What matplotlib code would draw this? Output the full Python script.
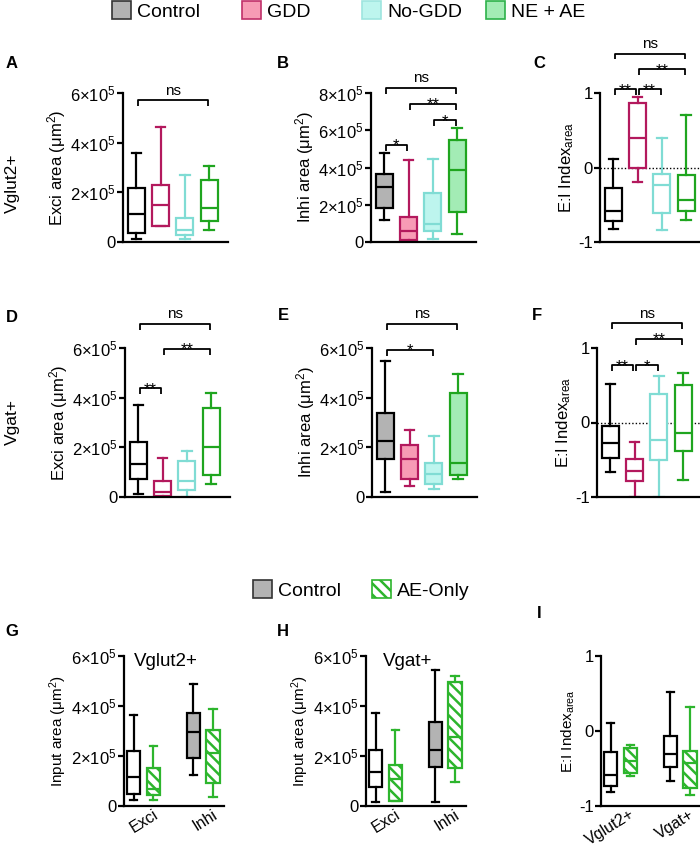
import matplotlib
matplotlib.use("Agg")
import matplotlib.pyplot as plt
from matplotlib.patches import Patch
from matplotlib.ticker import FuncFormatter
from matplotlib.transforms import ScaledTranslation

plt.rcParams["font.family"] = ["Liberation Sans", "DejaVu Sans"]
plt.rcParams["mathtext.fontset"] = "custom"
plt.rcParams["mathtext.rm"] = "Liberation Sans"
plt.rcParams["mathtext.it"] = "Liberation Sans:italic"
plt.rcParams["mathtext.bf"] = "Liberation Sans:bold"
plt.rcParams["hatch.linewidth"] = 1.8

# ---- data: five-number summaries [min, q1, median, q3, max] ----
# area panels in units of 1e5 um^2, E:I index unitless
groups = ["Control", "GDD", "No-GDD", "NE + AE"]

vglut_exci = [[0.12, 0.38, 1.14, 2.16, 3.60],
              [0.65, 0.65, 1.49, 2.30, 4.64],
              [0.12, 0.27, 0.49, 0.95, 2.70],
              [0.49, 0.85, 1.38, 2.51, 3.08]]
vglut_inhi = [[1.16, 1.84, 2.95, 3.67, 4.80],
              [0.02, 0.09, 0.57, 1.34, 4.38],
              [0.18, 0.57, 0.98, 2.63, 4.47],
              [0.45, 1.61, 3.85, 5.50, 6.12]]
vglut_ei = [[-0.82, -0.72, -0.59, -0.28, 0.12],
            [-0.19, -0.01, 0.40, 0.86, 0.94],
            [-0.84, -0.61, -0.23, -0.085, 0.40],
            [-0.71, -0.58, -0.43, -0.10, 0.71]]
vgat_exci = [[0.13, 0.71, 1.32, 2.22, 3.71],
             [0.00, 0.05, 0.20, 0.65, 1.58],
             [0.00, 0.30, 0.63, 1.45, 1.85],
             [0.54, 0.88, 2.02, 3.57, 4.20]]
vgat_inhi = [[0.19, 1.54, 2.25, 3.38, 5.46],
             [0.46, 0.74, 1.55, 2.11, 2.71],
             [0.32, 0.54, 0.94, 1.37, 2.47],
             [0.72, 0.90, 1.37, 4.20, 4.97]]
vgat_ei = [[-0.67, -0.48, -0.28, -0.05, 0.52],
           [-1.00, -0.79, -0.65, -0.49, -0.26],
           [-1.00, -0.51, -0.23, 0.38, 0.62],
           [-0.77, -0.38, -0.14, 0.51, 0.66]]

# AE-only comparison: order = control exci, AE exci, control inhi, AE inhi
ae_groups = ["Control", "AE-Only"]
g_vglut = [[0.24, 0.47, 1.17, 2.21, 3.64],
           [0.24, 0.44, 0.67, 1.51, 2.41],
           [1.24, 1.91, 2.97, 3.73, 4.87],
           [0.37, 0.91, 2.11, 3.04, 3.88]]
h_vgat = [[0.18, 0.77, 1.35, 2.25, 3.73],
          [0.20, 0.22, 1.10, 1.65, 3.03],
          [0.18, 1.55, 2.25, 3.38, 5.46],
          [0.98, 1.53, 2.78, 4.96, 5.19]]
i_ei = [[-0.81, -0.73, -0.58, -0.28, 0.11],
        [-0.60, -0.56, -0.40, -0.23, -0.18],
        [-0.67, -0.48, -0.30, -0.07, 0.52],
        [-0.85, -0.76, -0.42, -0.26, 0.32]]

# significance brackets: (group a, group b, height, label)
sig_a = [(1, 4, 5.7, "ns")]
sig_b = [(1, 4, 8.26, "ns"), (2, 4, 7.42, "**"), (3, 4, 6.53, "*"), (1, 2, 5.22, "*")]
sig_c = [(1, 4, 1.53, "ns"), (2, 4, 1.32, "**"), (1, 2, 1.05, "**"), (2, 3, 1.05, "**")]
sig_d = [(1, 4, 6.97, "ns"), (2, 4, 5.97, "**"), (1, 2, 4.38, "**")]
sig_e = [(1, 4, 6.97, "ns"), (1, 3, 5.93, "*")]
sig_f = [(1, 4, 1.33, "ns"), (2, 4, 1.12, "**"), (1, 2, 0.77, "**"), (2, 3, 0.77, "*")]

edge = ["black", "#B3195D", "#80DCD4", "#1FA51F"]
fill = ["#B3B3B3", "#F79BB5", "#BDF5EE", "#A3ECB5"]
ae_green = "#2DB52D"

W, H = 700, 850
fig = plt.figure(figsize=(7, 8.5), dpi=100)


def axes_px(left, top, width, bottom):
    return fig.add_axes([left / W, 1 - bottom / H, width / W, (bottom - top) / H])


def sci_fmt(v, pos):
    if abs(v) < 1e-9:
        return "0"
    return "%d×10$^5$" % round(v / 1e5)


def style(ax, ylim, yticks, ylabel, area, lsize=12):
    for s in ["top", "right"]:
        ax.spines[s].set_visible(False)
    for s in ["left", "bottom"]:
        ax.spines[s].set_linewidth(1.6)
    ax.set_ylim(*ylim)
    ax.set_yticks(yticks)
    if area:
        ax.yaxis.set_major_formatter(FuncFormatter(sci_fmt))
    else:
        ax.set_yticklabels(["%d" % t for t in yticks])
    ax.tick_params(axis="y", length=4, width=1.6, labelsize=12, pad=1)
    ax.tick_params(axis="x", length=0)
    ax.set_ylabel(ylabel, fontsize=lsize, labelpad=2)


def boxes(ax, data, pos, width, edges, fills, hatches, scale):
    stats = [dict(whislo=d[0] * scale, q1=d[1] * scale, med=d[2] * scale,
                  q3=d[3] * scale, whishi=d[4] * scale, fliers=[]) for d in data]
    bp = ax.bxp(stats, positions=pos, widths=width, patch_artist=True,
                showfliers=False, manage_ticks=False,
                capwidths=[width * 0.55] * len(data))
    for i in range(len(data)):
        b = bp["boxes"][i]
        b.set_facecolor(fills[i])
        b.set_edgecolor(edges[i])
        b.set_linewidth(1.6)
        if hatches[i]:
            b.set_hatch(hatches[i])
        for ln in bp["whiskers"][2 * i:2 * i + 2] + bp["caps"][2 * i:2 * i + 2]:
            ln.set_color(edges[i])
            ln.set_linewidth(1.6)
        bp["medians"][i].set_color(edges[i])
        bp["medians"][i].set_linewidth(1.6)


def brackets(ax, sigs, scale, yr):
    arm = 0.04 * yr
    for a, b, y, lab in sigs:
        y = y * scale
        x1, x2 = a + 0.05, b - 0.05
        ax.plot([x1, x1, x2, x2], [y - arm, y, y, y - arm], color="black",
                lw=1.3, clip_on=False, solid_capstyle="butt")
        if lab == "ns":
            ax.annotate(lab, ((a + b) / 2, y), xytext=(0, 2), textcoords="offset points",
                        ha="center", va="bottom", fontsize=11, annotation_clip=False)
        else:
            ax.annotate(lab, ((a + b) / 2, y), xytext=(0, -4), textcoords="offset points",
                        ha="center", va="baseline", fontsize=12, annotation_clip=False)


area_label_e = "Exci area (μm$^2$)"
area_label_i = "Inhi area (μm$^2$)"
ei_label = "E:I Index$_{\\mathregular{area}}$"
pos4 = [1, 2, 3, 4]

panels = [
    (123, 93, 242, vglut_exci, sig_a, (0, 6e5), [0, 2e5, 4e5, 6e5], area_label_e, True, False),
    (371, 93, 242, vglut_inhi, sig_b, (0, 8e5), [0, 2e5, 4e5, 6e5, 8e5], area_label_i, True, True),
    (600, 93, 242, vglut_ei, sig_c, (-1, 1), [-1, 0, 1], ei_label, False, False),
    (125, 348, 497, vgat_exci, sig_d, (0, 6e5), [0, 2e5, 4e5, 6e5], area_label_e, True, False),
    (372, 348, 497, vgat_inhi, sig_e, (0, 6e5), [0, 2e5, 4e5, 6e5], area_label_i, True, True),
    (597, 348, 497, vgat_ei, sig_f, (-1, 1), [-1, 0, 1], ei_label, False, False),
]

for left, top, bottom, data, sigs, ylim, yt, ylab, area, filled in panels:
    ax = axes_px(left, top, 105, bottom)
    ax.set_xlim(0.45, 4.78)
    scale = 1e5 if area else 1.0
    if not area:
        ax.axhline(0, color="black", lw=1.0, ls=(0, (1, 1.5)), zorder=0.5)
    fills = fill if filled else ["white"] * 4
    boxes(ax, data, pos4, 0.7, edge, fills, [None] * 4, scale)
    style(ax, ylim, yt, ylab, area)
    ax.set_xticks([])
    brackets(ax, sigs, scale, ylim[1] - ylim[0])

# bottom row
pos_pair = [0.835, 1.165, 1.835, 2.165]
pair_edges = ["black", ae_green, "black", ae_green]
hatch_pair = [None, "\\\\\\", None, "\\\\\\"]
bottom_panels = [
    (124, g_vglut, ["white", "white", fill[0], "white"], (0, 6e5), [0, 2e5, 4e5, 6e5],
     "Input area (μm$^2$)", True, ["Exci", "Inhi"], "Vglut2+"),
    (366, h_vgat, ["white", "white", fill[0], "white"], (0, 6e5), [0, 2e5, 4e5, 6e5],
     "Input area (μm$^2$)", True, ["Exci", "Inhi"], "Vgat+"),
    (601, i_ei, ["white"] * 4, (-1, 1), [-1, 0, 1], ei_label, False, ["Vglut2+", "Vgat+"], None),
]
shift = ScaledTranslation(9 / 100, 0, fig.dpi_scale_trans)
for left, data, fills, ylim, yt, ylab, area, xl, title in bottom_panels:
    ax = axes_px(left, 656, 100, 806)
    ax.set_xlim(0.67, 2.35)
    scale = 1e5 if area else 1.0
    boxes(ax, data, pos_pair, 0.22, pair_edges, fills, hatch_pair, scale)
    style(ax, ylim, yt, ylab, area, lsize=11)
    ax.set_xticks([1, 2])
    ax.tick_params(axis="x", pad=0.5)
    for lab in ax.set_xticklabels(xl, rotation=32, fontsize=11.5, ha="right", va="top",
                                  rotation_mode="anchor"):
        lab.set_transform(lab.get_transform() + shift)
    if title:
        ax.text(0.42, 0.96, title, transform=ax.transAxes, fontsize=13.5,
                ha="center", va="center")

# panel letters and row labels
letters = [("A", 12, 64), ("B", 283, 63), ("C", 539, 63),
           ("D", 12, 317), ("E", 283, 316), ("F", 537, 316),
           ("G", 12, 632), ("H", 283, 632), ("I", 539, 613)]
for lab, x, y in letters:
    fig.text(x / W, 1 - y / H, lab, fontsize=12, fontweight="bold", ha="center", va="center")
fig.text(12 / W, 1 - 183 / H, "Vglut2+", fontsize=12.5, rotation=90, ha="center", va="center")
fig.text(12 / W, 1 - 422 / H, "Vgat+", fontsize=12.5, rotation=90, ha="center", va="center")


def legend_entry(x, y, label, face, ec, hatch=None):
    h = Patch(facecolor=face, edgecolor=ec, hatch=hatch, lw=1.2)
    fig.legend([h], [label], loc="center left", bbox_to_anchor=(x / W, 1 - y / H),
               frameon=False, fontsize=14, handlelength=1.0, handleheight=1.0,
               handletextpad=0.3, borderpad=0, borderaxespad=0)


top_x = [112, 242, 362, 486]
top_edges = ["#333333", "#C0306A", "#9EE5DF", "#2DB24A"]
for i in range(4):
    legend_entry(top_x[i], 11, groups[i], fill[i], top_edges[i])
legend_entry(253, 590, ae_groups[0], fill[0], "#333333")
legend_entry(372, 590, ae_groups[1], "white", ae_green, "\\\\\\")

fig.savefig("out.png", dpi=100)
